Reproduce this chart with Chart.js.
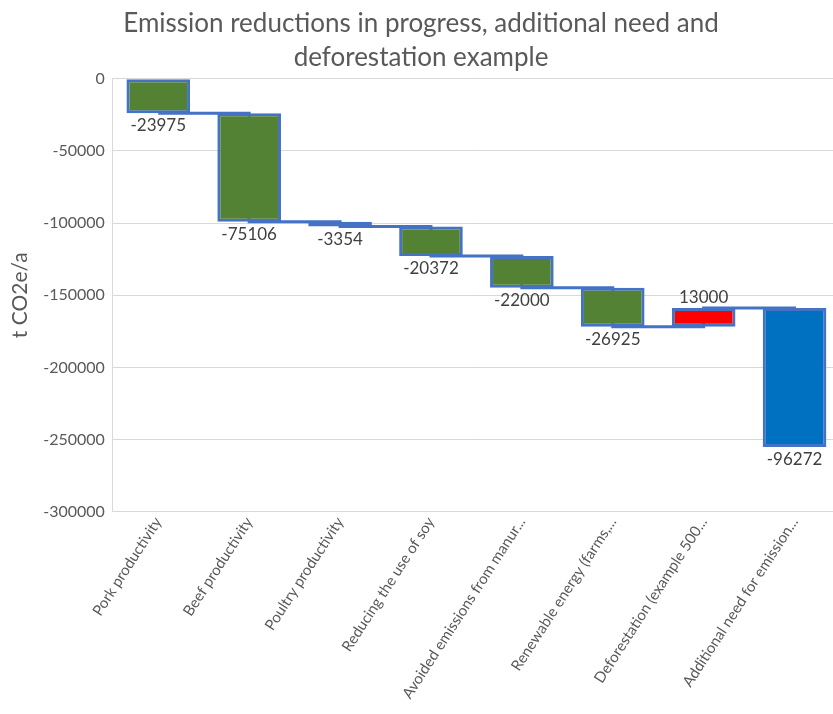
<!DOCTYPE html>
<html>
<head>
<meta charset="utf-8">
<script src="https://cdn.jsdelivr.net/npm/chart.js@4.4.0/dist/chart.umd.min.js"></script>
<style>
    html, body { margin: 0; padding: 0; background: #fff; overflow: hidden; }
    #wrap { width: 840px; height: 714px; }
</style>
</head>
<body>
<div id="wrap"><canvas id="waterfallChart"></canvas></div>
<script>
const categories = [
    'Pork productivity',
    'Beef productivity',
    'Poultry productivity',
    'Reducing the use of soy',
    'Avoided emissions from manur...',
    'Renewable energy (farms,...',
    'Deforestation (example 500...',
    'Additional need for emission...'
];
const changes = [-23975, -75106, -3354, -20372, -22000, -26925, 13000, -96272];
const barColors = ['#548235', '#548235', '#548235', '#548235', '#548235', '#548235', '#FF0000', '#0070C0'];
const yTicks = [0, -50000, -100000, -150000, -200000, -250000, -300000];

// floating bars from the running total
const floating = [];
const levels = [];
let running = 0;
changes.forEach(v => {
    floating.push([running, running + v]);
    running += v;
    levels.push(running);
});

const FONT = 'Lato, "Open Sans", sans-serif';

const valueLabels = {
    id: 'valueLabels',
    afterDatasetsDraw(chart) {
        const ctx = chart.ctx;
        const meta = chart.getDatasetMeta(0);
        ctx.save();
        ctx.font = '17px ' + FONT;
        ctx.fillStyle = '#404040';
        ctx.textAlign = 'center';
        meta.data.forEach((bar, i) => {
            const v = changes[i];
            const yTop = Math.min(bar.y, bar.base);
            const yBot = Math.max(bar.y, bar.base);
            if (v < 0) {
                ctx.textBaseline = 'top';
                ctx.fillText(String(v), bar.x, yBot + 4);
            } else {
                ctx.textBaseline = 'bottom';
                ctx.fillText(String(v), bar.x, yTop - 2);
            }
        });
        ctx.restore();
    }
};

const ctx = document.getElementById('waterfallChart').getContext('2d');
new Chart(ctx, {
    type: 'bar',
    data: {
        labels: categories,
        datasets: [{
            type: 'bar',
            data: floating,
            backgroundColor: barColors,
            borderColor: '#4472C4',
            borderWidth: 3,
            borderSkipped: false,
            categoryPercentage: 1,
            barPercentage: 0.7,
            order: 1
        }, {
            // connectors: flat at each running total, vertical part hidden behind the next bar
            type: 'line',
            data: levels,
            stepped: 'before',
            borderColor: '#4472C4',
            borderWidth: 3,
            pointRadius: 0,
            fill: false,
            order: 2
        }]
    },
    options: {
        responsive: true,
        maintainAspectRatio: false,
        animation: false,
        layout: { padding: { left: 2, right: 0, top: 6, bottom: 10 } },
        plugins: {
            legend: { display: false },
            tooltip: { enabled: false },
            title: {
                display: true,
                text: ['Emission reductions in progress, additional need and', 'deforestation example'],
                color: '#595959',
                font: { family: FONT, size: 26, weight: 'normal', lineHeight: 1.32 },
                padding: { top: 0, bottom: 4 }
            }
        },
        scales: {
            x: {
                grid: { display: false, drawTicks: false },
                border: { color: '#d9d9d9' },
                ticks: {
                    color: '#595959',
                    font: { family: FONT, size: 15 },
                    minRotation: 57,
                    maxRotation: 57,
                    autoSkip: false,
                    padding: 2
                }
            },
            y: {
                min: -300000,
                max: 0,
                afterBuildTicks: axis => { axis.ticks = yTicks.map(v => ({ value: v })); },
                grid: { color: '#d9d9d9', drawTicks: false },
                border: { color: '#d9d9d9' },
                ticks: {
                    color: '#595959',
                    font: { family: FONT, size: 16 },
                    padding: 8,
                    callback: v => String(v)
                },
                title: {
                    display: true,
                    text: 't CO2e/a',
                    color: '#595959',
                    font: { family: FONT, size: 21 },
                    padding: { top: 6, bottom: 2 }
                }
            }
        }
    },
    plugins: [valueLabels]
});
</script>
</body>
</html>
